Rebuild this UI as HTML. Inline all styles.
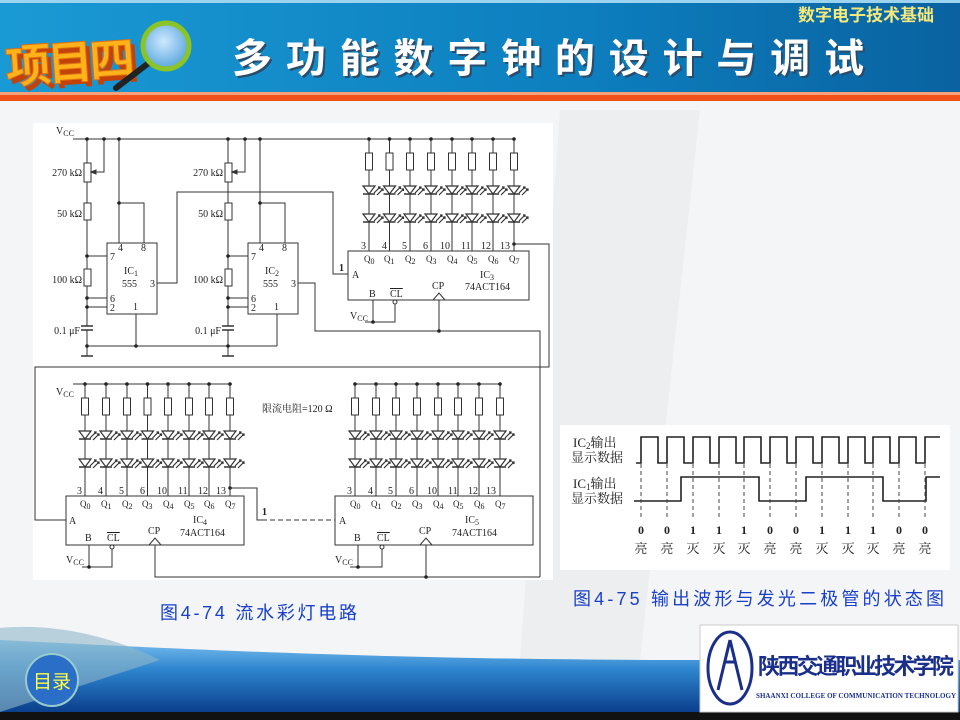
<!DOCTYPE html>
<html><head><meta charset="utf-8"><style>
html,body{margin:0;padding:0;width:960px;height:720px;overflow:hidden;background:#f3f5f7}
svg{display:block}
.t{font-family:"Liberation Serif","Noto Serif CJK SC",serif;font-size:10px;fill:#222}
.s{font-family:"Liberation Serif","Noto Serif CJK SC",serif;font-size:8px;fill:#222}
.cn{font-family:"Liberation Sans","Noto Sans CJK SC",sans-serif}
</style></head><body>
<svg width="960" height="720" viewBox="0 0 960 720" xmlns="http://www.w3.org/2000/svg">
<defs>
<linearGradient id="hb" x1="0" y1="0" x2="1" y2="0"><stop offset="0" stop-color="#1a9ad4"/><stop offset="0.6" stop-color="#0d7fbf"/><stop offset="1" stop-color="#0a62a0"/></linearGradient>
<linearGradient id="fb" x1="0" y1="0" x2="0" y2="1"><stop offset="0" stop-color="#7cc0ee"/><stop offset="0.4" stop-color="#2f86d0"/><stop offset="1" stop-color="#0b3f8c"/></linearGradient>
<radialGradient id="lens" cx="0.45" cy="0.4" r="0.6"><stop offset="0" stop-color="#cde9ff"/><stop offset="1" stop-color="#5aa6dd"/></radialGradient>
<g id="col">
 <line x1="0" y1="0" x2="0" y2="14" stroke="#333" stroke-width="1"/>
 <rect x="-3.5" y="14" width="7" height="17" fill="#fff" stroke="#333" stroke-width="1"/>
 <line x1="0" y1="31" x2="0" y2="112" stroke="#333" stroke-width="1"/>
 <polygon points="-6,47 6,47 0,55" fill="#fff" stroke="#333" stroke-width="1.2"/>
 <line x1="-6" y1="55" x2="6" y2="55" stroke="#333" stroke-width="1.5"/>
 <path d="M5,54 L11,48 M9,48 L11,48 L11,50 M8,56 L14,50 M12,50 L14,50 L14,52" stroke="#333" stroke-width="1.2" fill="none"/>
 <polygon points="-6,75 6,75 0,83" fill="#fff" stroke="#333" stroke-width="1.2"/>
 <line x1="-6" y1="83" x2="6" y2="83" stroke="#333" stroke-width="1.5"/>
 <path d="M5,82 L11,76 M9,76 L11,76 L11,78 M8,84 L14,78 M12,78 L14,78 L14,80" stroke="#333" stroke-width="1.2" fill="none"/>
 <circle cx="0" cy="0" r="1.8" fill="#222"/>
</g>
<g id="n555" stroke="#333" stroke-width="1" fill="none">
 <line x1="87" y1="139" x2="87" y2="163"/>
 <rect x="84" y="163" width="7" height="19" fill="#fff"/>
 <path d="M104,139 V172 H92"/><polygon points="91,172 96,170 96,174" fill="#333"/>
 <line x1="87" y1="182" x2="87" y2="203"/>
 <rect x="84" y="203" width="7" height="17" fill="#fff"/>
 <line x1="87" y1="220" x2="87" y2="269"/>
 <rect x="84" y="269" width="7" height="17" fill="#fff"/>
 <line x1="87" y1="286" x2="87" y2="326"/>
 <line x1="81" y1="326" x2="93" y2="326" stroke-width="1.5"/>
 <line x1="81" y1="330" x2="93" y2="330" stroke-width="1.5"/>
 <line x1="87" y1="330" x2="87" y2="356"/>
 <line x1="81" y1="356" x2="93" y2="356" stroke-width="1.5"/>
 <path d="M87,256 H107 M87,298 H107 M87,307 H107"/>
 <rect x="107" y="243" width="50" height="71" fill="#fff"/>
 <line x1="119" y1="139" x2="119" y2="243"/>
 <path d="M119,203 H144 V243"/>
 <line x1="136" y1="314" x2="136" y2="346"/>
</g>
</defs>

<rect x="0" y="0" width="960" height="720" fill="#f3f5f7"/>
<path d="M560 110 L700 110 L640 660 L520 660 Z" fill="#eceef0"/>
<rect x="33" y="123" width="520" height="457" fill="#fff"/>
<rect x="560" y="425" width="390" height="145" fill="#fff"/>

<!-- header -->
<rect x="0" y="0" width="960" height="93" fill="url(#hb)"/>
<rect x="0" y="0" width="960" height="3" fill="#9cd3ef"/>
<rect x="0" y="92" width="960" height="3" fill="#f7a07a"/>
<rect x="0" y="95" width="960" height="6" fill="#f0521a"/>
<text x="866" y="21" text-anchor="middle" class="cn" font-size="17" font-weight="bold" fill="#f5e97a">数字电子技术基础</text>
<text x="9" y="84" class="cn" font-size="46" font-weight="bold" fill="#c2420a" textLength="130" transform="rotate(-4 70 60)">项目四</text>
<text x="5" y="79" class="cn" font-size="46" font-weight="bold" fill="#ffb21a" stroke="#e07010" stroke-width="1" textLength="130" transform="rotate(-4 70 60)">项目四</text>
<line x1="150" y1="62" x2="116" y2="88" stroke="#222" stroke-width="6" stroke-linecap="round"/>
<circle cx="166" cy="46" r="23" fill="url(#lens)" stroke="#8ac426" stroke-width="5"/>
<text x="234" y="74" class="cn" font-size="40" font-weight="bold" fill="#2a4b6a" textLength="632">多功能数字钟的设计与调试</text>
<text x="232" y="72" class="cn" font-size="40" font-weight="bold" fill="#fff" textLength="632">多功能数字钟的设计与调试</text>

<!-- upper circuit -->
<g stroke="#333" stroke-width="1" fill="none">
 <line x1="73" y1="139" x2="514" y2="139"/>
 <path d="M157,283 H177 V192 H333 V274 H348"/>
 <path d="M297,283 H315 V331 H540 V577"/>
 <line x1="87" y1="346" x2="277" y2="346"/>
 <line x1="277" y1="314" x2="277" y2="346"/>
 <rect x="348" y="251" width="181" height="49" fill="#fff"/>
 <path d="M514,244 H549 V367 H35 V520 H66"/>
 <path d="M373,300 V322 H395 V304"/>
 <line x1="365" y1="322" x2="373" y2="322"/>
 <line x1="439" y1="300" x2="439" y2="331"/>
 <polyline points="433,300 439,293 445,300"/>
 <circle cx="395" cy="302" r="2" fill="#fff"/>
</g>
<use href="#n555"/>
<use href="#n555" transform="translate(141,0)"/>
<g fill="#222">
 <circle cx="87" cy="139" r="1.8"/><circle cx="104" cy="139" r="1.8"/><circle cx="119" cy="139" r="1.8"/>
 <circle cx="228" cy="139" r="1.8"/><circle cx="245" cy="139" r="1.8"/><circle cx="260" cy="139" r="1.8"/>
 <circle cx="119" cy="203" r="1.8"/><circle cx="260" cy="203" r="1.8"/>
 <circle cx="87" cy="256" r="1.8"/><circle cx="87" cy="298" r="1.8"/><circle cx="87" cy="307" r="1.8"/><circle cx="87" cy="346" r="1.8"/>
 <circle cx="228" cy="256" r="1.8"/><circle cx="228" cy="298" r="1.8"/><circle cx="228" cy="307" r="1.8"/><circle cx="228" cy="346" r="1.8"/>
 <circle cx="136" cy="346" r="1.8"/>
 <circle cx="514" cy="244" r="1.8"/><circle cx="373" cy="322" r="1.8"/><circle cx="439" cy="331" r="1.8"/>
</g>
<use href="#col" x="369" y="139"/><use href="#col" x="389.5" y="139"/><use href="#col" x="410" y="139"/><use href="#col" x="431" y="139"/>
<use href="#col" x="452" y="139"/><use href="#col" x="472" y="139"/><use href="#col" x="493" y="139"/><use href="#col" x="514" y="139"/>

<g class="t">
 <text x="56" y="134">V<tspan class="s" dy="2">CC</tspan></text>
 <text x="82" y="176" text-anchor="end">270 kΩ</text>
 <text x="82" y="217" text-anchor="end">50 kΩ</text>
 <text x="82" y="283" text-anchor="end">100 kΩ</text>
 <text x="80" y="334" text-anchor="end">0.1 μF</text>
 <text x="223" y="176" text-anchor="end">270 kΩ</text>
 <text x="223" y="217" text-anchor="end">50 kΩ</text>
 <text x="223" y="283" text-anchor="end">100 kΩ</text>
 <text x="221" y="334" text-anchor="end">0.1 μF</text>
 <text x="118" y="251">4</text><text x="141" y="251">8</text><text x="110" y="260">7</text>
 <text x="124" y="274">IC<tspan class="s" dy="2">1</tspan></text><text x="122" y="287">555</text>
 <text x="150" y="287">3</text><text x="110" y="302">6</text><text x="110" y="311">2</text><text x="133" y="310">1</text>
 <text x="259" y="251">4</text><text x="282" y="251">8</text><text x="251" y="260">7</text>
 <text x="265" y="274">IC<tspan class="s" dy="2">2</tspan></text><text x="263" y="287">555</text>
 <text x="291" y="287">3</text><text x="251" y="302">6</text><text x="251" y="311">2</text><text x="274" y="310">1</text>
 <text x="361" y="249">3</text><text x="382" y="249">4</text><text x="402" y="249">5</text><text x="423" y="249">6</text>
 <text x="440" y="249">10</text><text x="461" y="249">11</text><text x="481" y="249">12</text><text x="500" y="249">13</text>
 <text x="364" y="262" font-size="9">Q<tspan class="s" dy="2">0</tspan></text><text x="384" y="262" font-size="9">Q<tspan class="s" dy="2">1</tspan></text>
 <text x="405" y="262" font-size="9">Q<tspan class="s" dy="2">2</tspan></text><text x="426" y="262" font-size="9">Q<tspan class="s" dy="2">3</tspan></text>
 <text x="447" y="262" font-size="9">Q<tspan class="s" dy="2">4</tspan></text><text x="467" y="262" font-size="9">Q<tspan class="s" dy="2">5</tspan></text>
 <text x="488" y="262" font-size="9">Q<tspan class="s" dy="2">6</tspan></text><text x="509" y="262" font-size="9">Q<tspan class="s" dy="2">7</tspan></text>
 <text x="339" y="271" font-weight="bold">1</text><text x="352" y="278">A</text>
 <text x="480" y="278">IC<tspan class="s" dy="2">3</tspan></text><text x="465" y="290">74ACT164</text>
 <text x="369" y="297">B</text><text x="390" y="297" text-decoration="overline">CL</text><text x="432" y="289">CP</text>
 <text x="350" y="319">V<tspan class="s" dy="2">CC</tspan></text>
</g>

<!-- lower circuit -->
<g stroke="#333" stroke-width="1" fill="none">
 <line x1="73" y1="384" x2="230" y2="384"/>
 <line x1="355" y1="384" x2="500" y2="384"/>
 <rect x="66" y="496" width="178" height="49" fill="#fff"/>
 <rect x="335" y="496" width="198" height="49" fill="#fff"/>
 <path d="M230,488 H257 V520 H262"/>
 <line x1="262" y1="520" x2="335" y2="520" stroke-dasharray="5,3"/>
 <path d="M89,545 V567 H112 V549"/><line x1="82" y1="567" x2="89" y2="567"/>
 <path d="M358,545 V567 H382 V549"/><line x1="350" y1="567" x2="358" y2="567"/>
 <path d="M155,545 V577 H540"/><line x1="426" y1="545" x2="426" y2="577"/>
 <polyline points="149,545 155,538 161,545"/><polyline points="420,545 426,538 432,545"/>
 <circle cx="112" cy="547" r="2" fill="#fff"/><circle cx="382" cy="547" r="2" fill="#fff"/>
</g>
<g fill="#222"><circle cx="230" cy="488" r="1.8"/><circle cx="89" cy="567" r="1.8"/><circle cx="358" cy="567" r="1.8"/><circle cx="426" cy="577" r="1.8"/></g>
<use href="#col" x="85" y="384"/><use href="#col" x="106" y="384"/><use href="#col" x="127" y="384"/><use href="#col" x="147.5" y="384"/>
<use href="#col" x="168" y="384"/><use href="#col" x="189" y="384"/><use href="#col" x="209" y="384"/><use href="#col" x="230" y="384"/>
<use href="#col" x="355" y="384"/><use href="#col" x="376" y="384"/><use href="#col" x="396" y="384"/><use href="#col" x="417" y="384"/>
<use href="#col" x="438" y="384"/><use href="#col" x="458" y="384"/><use href="#col" x="479" y="384"/><use href="#col" x="500" y="384"/>
<g class="t">
 <text x="56" y="395">V<tspan class="s" dy="2">CC</tspan></text>
 <text x="262" y="412" font-size="10">限流电阻=120 Ω</text>
 <text x="77" y="494">3</text><text x="98" y="494">4</text><text x="119" y="494">5</text><text x="140" y="494">6</text>
 <text x="157" y="494">10</text><text x="178" y="494">11</text><text x="198" y="494">12</text><text x="216" y="494">13</text>
 <text x="80" y="507" font-size="9">Q<tspan class="s" dy="2">0</tspan></text><text x="101" y="507" font-size="9">Q<tspan class="s" dy="2">1</tspan></text>
 <text x="122" y="507" font-size="9">Q<tspan class="s" dy="2">2</tspan></text><text x="142" y="507" font-size="9">Q<tspan class="s" dy="2">3</tspan></text>
 <text x="163" y="507" font-size="9">Q<tspan class="s" dy="2">4</tspan></text><text x="184" y="507" font-size="9">Q<tspan class="s" dy="2">5</tspan></text>
 <text x="204" y="507" font-size="9">Q<tspan class="s" dy="2">6</tspan></text><text x="225" y="507" font-size="9">Q<tspan class="s" dy="2">7</tspan></text>
 <text x="69" y="524">A</text>
 <text x="193" y="523">IC<tspan class="s" dy="2">4</tspan></text><text x="180" y="536">74ACT164</text>
 <text x="85" y="541">B</text><text x="107" y="541" text-decoration="overline">CL</text><text x="148" y="534">CP</text>
 <text x="66" y="563">V<tspan class="s" dy="2">CC</tspan></text>
 <text x="262" y="515" font-weight="bold">1</text>
 <text x="347" y="494">3</text><text x="368" y="494">4</text><text x="388" y="494">5</text><text x="409" y="494">6</text>
 <text x="427" y="494">10</text><text x="448" y="494">11</text><text x="468" y="494">12</text><text x="486" y="494">13</text>
 <text x="350" y="507" font-size="9">Q<tspan class="s" dy="2">0</tspan></text><text x="371" y="507" font-size="9">Q<tspan class="s" dy="2">1</tspan></text>
 <text x="391" y="507" font-size="9">Q<tspan class="s" dy="2">2</tspan></text><text x="412" y="507" font-size="9">Q<tspan class="s" dy="2">3</tspan></text>
 <text x="433" y="507" font-size="9">Q<tspan class="s" dy="2">4</tspan></text><text x="453" y="507" font-size="9">Q<tspan class="s" dy="2">5</tspan></text>
 <text x="474" y="507" font-size="9">Q<tspan class="s" dy="2">6</tspan></text><text x="495" y="507" font-size="9">Q<tspan class="s" dy="2">7</tspan></text>
 <text x="339" y="524">A</text>
 <text x="465" y="523">IC<tspan class="s" dy="2">5</tspan></text><text x="452" y="536">74ACT164</text>
 <text x="354" y="541">B</text><text x="377" y="541" text-decoration="overline">CL</text><text x="419" y="534">CP</text>
 <text x="335" y="563">V<tspan class="s" dy="2">CC</tspan></text>
</g>

<!-- waveform -->
<g stroke="#222" stroke-width="1.6" fill="none">
 <path d="M636,463 H641 V437 H658 V463 H667 V437 H684 V463 H693 V437 H710 V463 H719 V437 H736 V463 H744 V437 H761 V463 H770 V437 H787 V463 H796 V437 H813 V463 H822 V437 H839 V463 H848 V437 H865 V463 H873 V437 H890 V463 H899 V437 H916 V463 H925 V437 H940"/>
 <path d="M634,501 H681 V477 H759 V501 H806 V477 H883 V501 H926 V477 H940"/>
</g>
<g stroke="#444" stroke-width="1" stroke-dasharray="4,3">
 <line x1="641" y1="464" x2="641" y2="520"/><line x1="667" y1="464" x2="667" y2="520"/><line x1="693" y1="464" x2="693" y2="520"/>
 <line x1="719" y1="464" x2="719" y2="520"/><line x1="744" y1="464" x2="744" y2="520"/><line x1="770" y1="464" x2="770" y2="520"/>
 <line x1="796" y1="464" x2="796" y2="520"/><line x1="822" y1="464" x2="822" y2="520"/><line x1="848" y1="464" x2="848" y2="520"/>
 <line x1="873" y1="464" x2="873" y2="520"/><line x1="899" y1="464" x2="899" y2="520"/><line x1="925" y1="464" x2="925" y2="520"/>
</g>
<g class="t">
 <text x="573" y="447" font-size="13">IC<tspan font-size="9" dy="2">2</tspan><tspan dy="-2">输出</tspan></text>
 <text x="571" y="462" font-size="13">显示数据</text>
 <text x="573" y="488" font-size="13">IC<tspan font-size="9" dy="2">1</tspan><tspan dy="-2">输出</tspan></text>
 <text x="571" y="503" font-size="13">显示数据</text>
</g>
<g class="t" font-weight="bold" text-anchor="middle">
 <text x="641" y="534" font-size="12">0</text><text x="667" y="534" font-size="12">0</text><text x="693" y="534" font-size="12">1</text>
 <text x="719" y="534" font-size="12">1</text><text x="744" y="534" font-size="12">1</text><text x="770" y="534" font-size="12">0</text>
 <text x="796" y="534" font-size="12">0</text><text x="822" y="534" font-size="12">1</text><text x="848" y="534" font-size="12">1</text>
 <text x="873" y="534" font-size="12">1</text><text x="899" y="534" font-size="12">0</text><text x="925" y="534" font-size="12">0</text>
</g>
<g class="t" text-anchor="middle">
 <text x="641" y="553" font-size="13">亮</text><text x="667" y="553" font-size="13">亮</text><text x="693" y="553" font-size="13">灭</text>
 <text x="719" y="553" font-size="13">灭</text><text x="744" y="553" font-size="13">灭</text><text x="770" y="553" font-size="13">亮</text>
 <text x="796" y="553" font-size="13">亮</text><text x="822" y="553" font-size="13">灭</text><text x="848" y="553" font-size="13">灭</text>
 <text x="873" y="553" font-size="13">灭</text><text x="899" y="553" font-size="13">亮</text><text x="925" y="553" font-size="13">亮</text>
</g>

<!-- captions -->
<text x="160" y="619" class="cn" font-size="18" fill="#1a3fc8" textLength="197">图4-74 流水彩灯电路</text>
<text x="573" y="605" class="cn" font-size="18" fill="#1a3fc8" textLength="371">图4-75 输出波形与发光二极管的状态图</text>

<!-- footer -->
<path d="M0,640 C200,650 400,660 700,660 L960,660 L960,712 L0,712 Z" fill="url(#fb)"/>
<path d="M0,628 C60,622 120,640 160,660 L0,712 Z" fill="#8fb8c8" opacity="0.6"/>
<circle cx="52" cy="680" r="26" fill="#2a6ec8" stroke="#9cc" stroke-width="2"/>
<text x="52" y="688" text-anchor="middle" class="cn" font-size="19" fill="#ffff40">目录</text>
<rect x="0" y="712" width="960" height="8" fill="#111"/>
<rect x="700" y="625" width="258" height="87" fill="#fff" stroke="#ccc"/>
<ellipse cx="730" cy="668" rx="22" ry="36" fill="#fff" stroke="#1a2f8a" stroke-width="3"/>
<path d="M730,640 L718,690 M730,640 L742,690 M724,662 H736" stroke="#1a2f8a" stroke-width="3" fill="none"/>
<text x="758" y="674" class="cn" font-size="22" font-weight="bold" fill="#1a2f8a" textLength="196">陕西交通职业技术学院</text>
<text x="756" y="698" font-family="Liberation Serif,serif" font-size="7" font-weight="bold" fill="#1a2f8a" textLength="200">SHAANXI COLLEGE OF COMMUNICATION TECHNOLOGY</text>
</svg>
</body></html>
